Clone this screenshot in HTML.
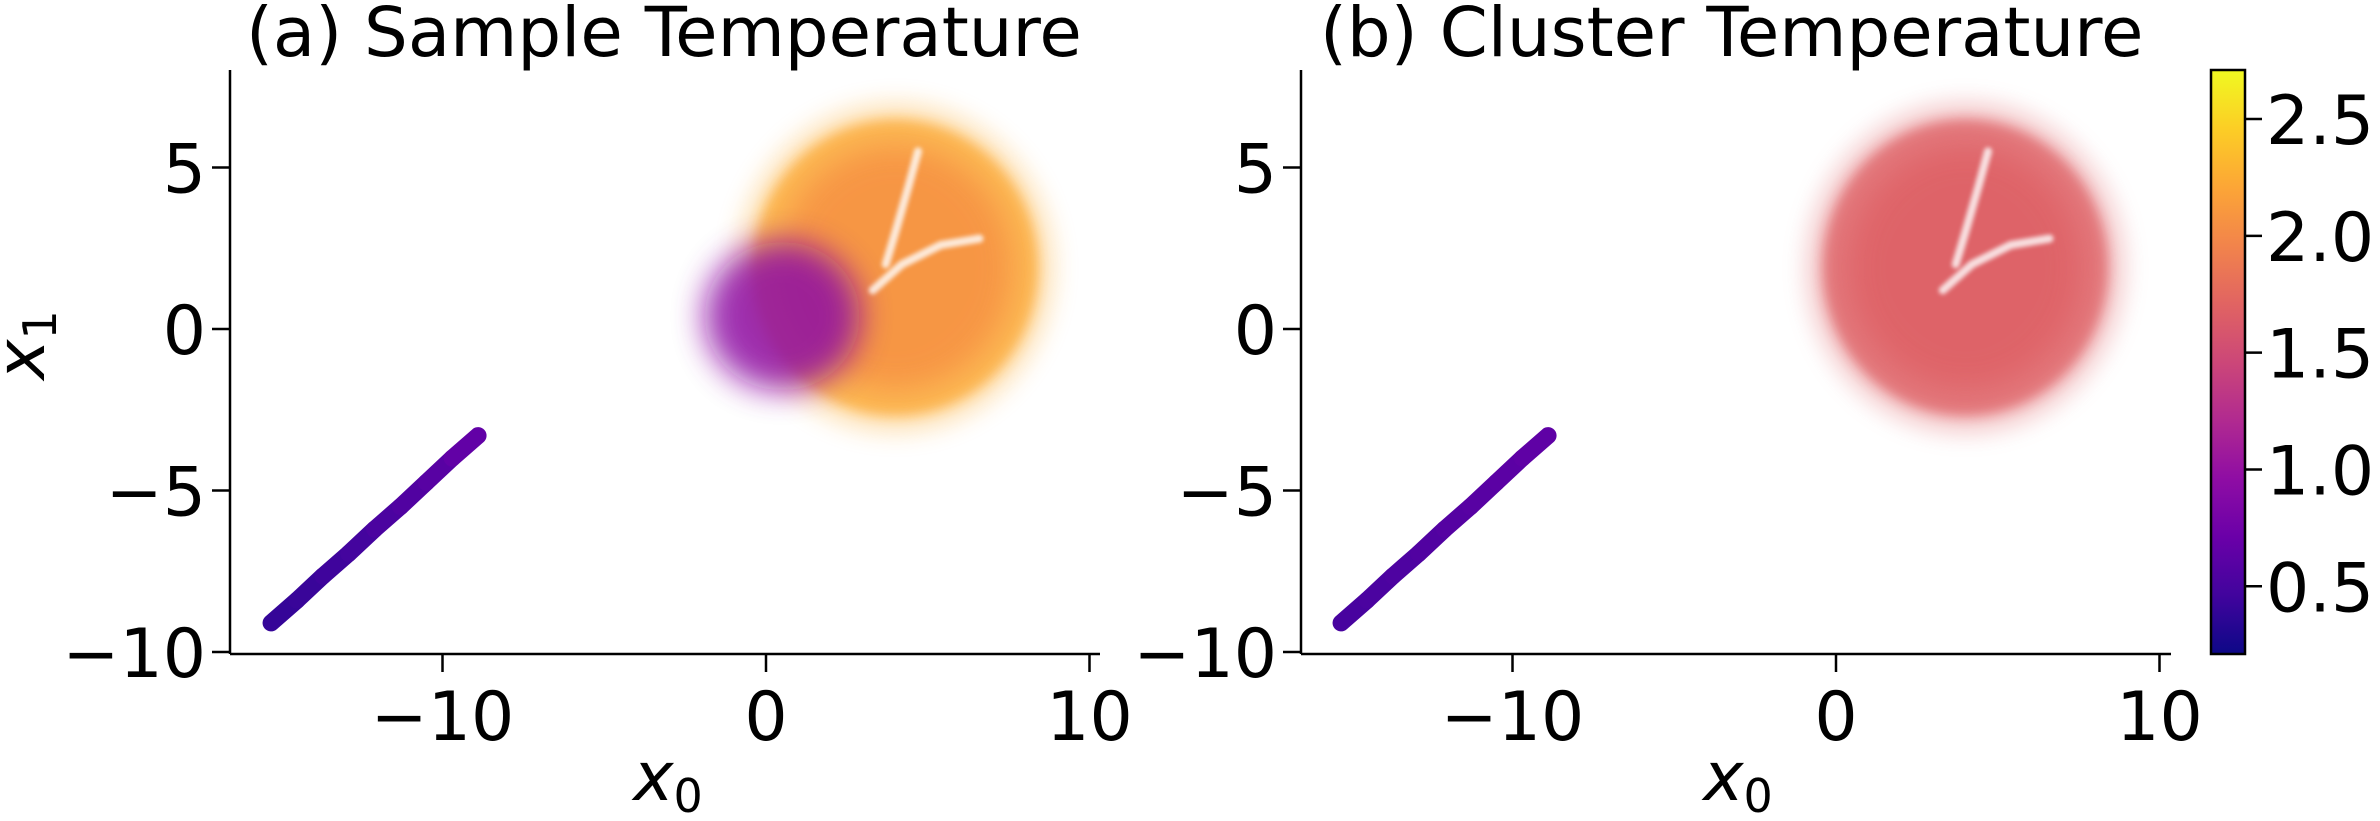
<!DOCTYPE html>
<html><head><meta charset="utf-8"><style>
html,body{margin:0;padding:0;background:#fff;}
svg text{font-family:"DejaVu Sans","Liberation Sans",sans-serif;fill:#000;}
</style></head><body>
<svg id="fig" width="2380" height="816" xmlns="http://www.w3.org/2000/svg">
<defs>
<filter id="soft" x="-30%" y="-30%" width="160%" height="160%"><feGaussianBlur stdDeviation="6"/></filter>
<filter id="halo" x="-30%" y="-30%" width="160%" height="160%"><feGaussianBlur stdDeviation="12"/></filter>
<filter id="soft2" x="-50%" y="-50%" width="200%" height="200%"><feGaussianBlur stdDeviation="16"/></filter>
<filter id="crack" x="-50%" y="-50%" width="200%" height="200%"><feGaussianBlur stdDeviation="2"/></filter>
<linearGradient id="cbgrad" x1="0" y1="1" x2="0" y2="0">
<stop offset="0" stop-color="#0d0887"/><stop offset="0.1" stop-color="#41049d"/>
<stop offset="0.2" stop-color="#6a00a8"/><stop offset="0.3" stop-color="#8f0da4"/>
<stop offset="0.4" stop-color="#b12a90"/><stop offset="0.5" stop-color="#cc4778"/>
<stop offset="0.6" stop-color="#e16462"/><stop offset="0.7" stop-color="#f2844b"/>
<stop offset="0.8" stop-color="#fca636"/><stop offset="0.9" stop-color="#fcce25"/><stop offset="1" stop-color="#f0f921"/>
</linearGradient>
</defs>
<g id="root"></g>
</svg>
<script>
// data
const xTicks = [-10, 0, 10];
const yTicks = [5, 0, -5, -10];
const cbTicks = [0.5, 1.0, 1.5, 2.0, 2.5];
const lineX0 = [-15.3, -14.5, -13.7, -12.9, -12.1, -11.3, -10.5, -9.7, -8.9];
const lineX1 = [-9.1, -8.4, -7.65, -6.95, -6.2, -5.5, -4.75, -4.0, -3.3];
const lineTemp = [0.4, 0.42, 0.45, 0.48, 0.52, 0.56, 0.6, 0.66, 0.72];
const lineTempB = [0.5, 0.52, 0.54, 0.56, 0.58, 0.6, 0.62, 0.64, 0.66];
const blobCenter = [4.0, 1.9];
const blobRadius = [4.9, 5.1];
const sampleTempBlob = 2.25;
const sampleTempInner = 2.05;
const purpleCenter = [0.5, 0.4];
const purpleRadius = [2.4, 2.3];
const purpleTemp = 0.95;
const clusterTempBlob = 1.68;
const crackA_x = [4.7, 4.4, 4.0, 3.7];
const crackA_y = [5.5, 4.4, 3.0, 2.0];
const crackB_x = [6.6, 5.4, 4.2, 3.3];
const crackB_y = [2.8, 2.6, 2.0, 1.2];
const cbMin = 0.21, cbMax = 2.71;

const NS = "http://www.w3.org/2000/svg";
const root = document.getElementById('root');
const stops = [[0,'#0d0887'],[0.1,'#41049d'],[0.2,'#6a00a8'],[0.3,'#8f0da4'],[0.4,'#b12a90'],[0.5,'#cc4778'],[0.6,'#e16462'],[0.7,'#f2844b'],[0.8,'#fca636'],[0.9,'#fcce25'],[1,'#f0f921']];
function hex(h){return [1,3,5].map(i=>parseInt(h.substr(i,2),16));}
function cmap(v){
  let t=Math.max(0,Math.min(1,(v-cbMin)/(cbMax-cbMin)));
  for(let i=1;i<stops.length;i++){ if(t<=stops[i][0]){
    const a=hex(stops[i-1][1]),b=hex(stops[i][1]),f=(t-stops[i-1][0])/(stops[i][0]-stops[i-1][0]);
    return 'rgb('+a.map((c,k)=>Math.round(c+(b[k]-c)*f)).join(',')+')';}}
  return stops[stops.length-1][1];
}
function mk(tag,attrs,parent){const e=document.createElementNS(NS,tag);for(const k in attrs)e.setAttribute(k,attrs[k]);(parent||root).appendChild(e);return e;}

function panel(ox, x0px, id, title, titleX, sample){
  const sx = v => x0px + v*32.35;
  const sy = v => 329 - v*32.3;
  const g = mk('g',{});
  
  
  const base = sample?sampleTempBlob:clusterTempBlob;
  const h = mk('ellipse',{cx:sx(blobCenter[0]),cy:sy(blobCenter[1]),rx:blobRadius[0]*32.35,ry:blobRadius[1]*32.3,fill:cmap(base),opacity:0.35,filter:'url(#halo)'},g);
  
  
  const b = mk('ellipse',{cx:sx(blobCenter[0]),cy:sy(blobCenter[1]),rx:blobRadius[0]*32.35*0.9,ry:blobRadius[1]*32.3*0.9,fill:cmap(base),opacity:0.75,filter:'url(#soft)'},g);
  
  
  const b2 = mk('ellipse',{cx:sx(blobCenter[0]),cy:sy(blobCenter[1]),rx:blobRadius[0]*32.35*0.75,ry:blobRadius[1]*32.3*0.75,fill:cmap(sample?sampleTempInner:clusterTempBlob),opacity:0.85,filter:'url(#soft2)'},g);
  
  
  if(sample){
    const p = mk('ellipse',{cx:sx(purpleCenter[0]),cy:sy(purpleCenter[1]),rx:purpleRadius[0]*32.35,ry:purpleRadius[1]*32.3,fill:cmap(purpleTemp),opacity:0.85,filter:'url(#soft2)'},g);
    
    
  }
  [[crackA_x,crackA_y],[crackB_x,crackB_y]].forEach((c,ci)=>{
    const d = c[0].map((v,i)=>(i?'L':'M')+sx(v)+','+sy(c[1][i])).join(' ');
    const cr = mk('path',{d:d,stroke:'#fff',fill:'none','stroke-width':8,opacity:0.8,'stroke-linecap':'round',filter:'url(#crack)'},g);
    
    
  });
  const lt = sample?lineTemp:lineTempB;
  for(let i=0;i<lineX0.length-1;i++){
    const s = mk('line',{x1:sx(lineX0[i]),y1:sy(lineX1[i]),x2:sx(lineX0[i+1]),y2:sy(lineX1[i+1]),stroke:cmap(lt[i]),'stroke-width':17,'stroke-linecap':'round'},g);
    
    
  }
  const ya = mk('line',{x1:ox,y1:70,x2:ox,y2:654,stroke:'#000','stroke-width':2.5},g);
  
  
  const xa = mk('line',{x1:ox,y1:654,x2:ox+870,y2:654,stroke:'#000','stroke-width':2.5},g);
  
  
  xTicks.forEach(t=>{
    mk('line',{x1:sx(t),y1:654,x2:sx(t),y2:672,stroke:'#000','stroke-width':2.5},g);
    const tx = mk('text',{x:sx(t),y:740,'text-anchor':'middle','font-size':68},g);
    tx.textContent = t<0 ? '\u2212'+(-t) : t;
    
    
  });
  yTicks.forEach(t=>{
    mk('line',{x1:ox-18,y1:sy(t),x2:ox,y2:sy(t),stroke:'#000','stroke-width':2.5},g);
    const ty = mk('text',{x:ox-24,y:sy(t)+25,'text-anchor':'end','font-size':68},g);
    ty.textContent = t<0 ? '\u2212'+(-t) : t;
    
    
  });
  const xl = mk('text',{x:x0px-98,y:800,'text-anchor':'middle','font-size':68,'font-style':'italic'},g);
  xl.innerHTML = 'x<tspan font-size="46" dy="12" font-style="normal">0</tspan>';
  
  
  const tt = mk('text',{x:titleX,y:56,'font-size':69},g);
  tt.textContent = title;
  
  
}
panel(230, 766, 'panel-a', '(a)  Sample Temperature', 246, true);
panel(1301, 1836, 'panel-b', '(b)  Cluster Temperature', 1320, false);

const yl = mk('text',{x:0,y:0,'text-anchor':'middle','font-size':68,'font-style':'italic',transform:'translate(44,345) rotate(-90)'});
yl.innerHTML = 'x<tspan font-size="46" dy="12" font-style="normal">1</tspan>';



const cb = mk('rect',{x:2211,y:70,width:34,height:584,fill:'url(#cbgrad)',stroke:'#000','stroke-width':2.5});


const cy = v => 654 - (v-cbMin)/(cbMax-cbMin)*584;
cbTicks.forEach(t=>{
  mk('line',{x1:2245,y1:cy(t),x2:2262,y2:cy(t),stroke:'#000','stroke-width':2.5});
  const l = mk('text',{x:2266,y:cy(t)+25,'font-size':68});
  l.textContent = t.toFixed(1);
  
  
});
</script>
</body></html>
